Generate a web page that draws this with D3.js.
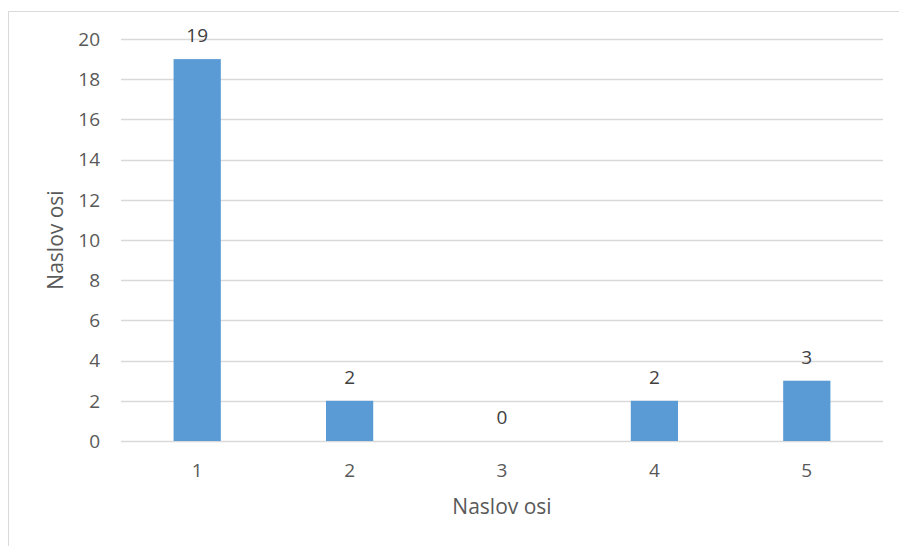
<!DOCTYPE html>
<html>
<head>
<meta charset="utf-8">
<script src="https://cdn.jsdelivr.net/npm/d3@7"></script>
<style>
  body { margin: 0; background: #fff; }
  text { font-family: "Open Sans", "Liberation Sans", sans-serif; fill: #595959; }
</style>
</head>
<body>
<div id="chart"></div>
<script>
// chart data
var categories = ["1", "2", "3", "4", "5"];
var values = [19, 2, 0, 2, 3];
var yTicks = [0, 2, 4, 6, 8, 10, 12, 14, 16, 18, 20];
var xTitle = "Naslov osi",
    yTitle = "Naslov osi";

var width = 899,
    height = 546;

var plot = { left: 121, right: 883, top: 39, bottom: 441 };

var svg = d3.select("#chart").append("svg")
    .attr("width", width)
    .attr("height", height);

// chart frame (runs off the right and bottom edges)
svg.append("rect")
    .attr("x", 8.5)
    .attr("y", 11.5)
    .attr("width", 900)
    .attr("height", 560)
    .attr("fill", "none")
    .attr("stroke", "#d9d9d9")
    .attr("stroke-width", 1);

var x = d3.scaleBand()
    .domain(categories)
    .range([plot.left, plot.right])
    .paddingInner(0.69)
    .paddingOuter(0.345);

var y = d3.scaleLinear()
    .domain([0, 20])
    .range([plot.bottom, plot.top]);

// gridlines
svg.append("g").selectAll("line")
    .data(yTicks)
    .enter().append("line")
    .attr("x1", plot.left)
    .attr("x2", plot.right)
    .attr("y1", function(d) { return Math.round(y(d)) + 0.5; })
    .attr("y2", function(d) { return Math.round(y(d)) + 0.5; })
    .attr("stroke", "#d9d9d9")
    .attr("stroke-width", 1.5);

// y tick labels
svg.append("g").selectAll("text")
    .data(yTicks)
    .enter().append("text")
    .attr("x", 100)
    .attr("y", function(d) { return y(d); })
    .attr("dy", "0.36em")
    .attr("text-anchor", "end")
    .style("font-size", "19px")
    .text(function(d) { return d; });

// bars
svg.append("g").selectAll("rect")
    .data(values)
    .enter().append("rect")
    .attr("x", function(d, i) { return x(categories[i]); })
    .attr("y", function(d) { return y(d); })
    .attr("width", x.bandwidth())
    .attr("height", function(d) { return y(0) - y(d); })
    .attr("fill", "#5b9bd5");

// data labels
svg.append("g").selectAll("text")
    .data(values)
    .enter().append("text")
    .attr("x", function(d, i) { return x(categories[i]) + x.bandwidth() / 2; })
    .attr("y", function(d) { return y(d) - 17; })
    .attr("text-anchor", "middle")
    .style("font-size", "19px")
    .style("fill", "#404040")
    .text(function(d) { return d; });

// x tick labels
svg.append("g").selectAll("text")
    .data(categories)
    .enter().append("text")
    .attr("x", function(d) { return x(d) + x.bandwidth() / 2; })
    .attr("y", 477)
    .attr("text-anchor", "middle")
    .style("font-size", "19px")
    .text(function(d) { return d; });

// axis titles
svg.append("text")
    .attr("x", (plot.left + plot.right) / 2)
    .attr("y", 514)
    .attr("text-anchor", "middle")
    .style("font-size", "21px")
    .text(xTitle);

svg.append("text")
    .attr("transform", "translate(63," + (plot.top + plot.bottom) / 2 + ")rotate(-90)")
    .attr("text-anchor", "middle")
    .style("font-size", "21px")
    .text(yTitle);
</script>
</body>
</html>
